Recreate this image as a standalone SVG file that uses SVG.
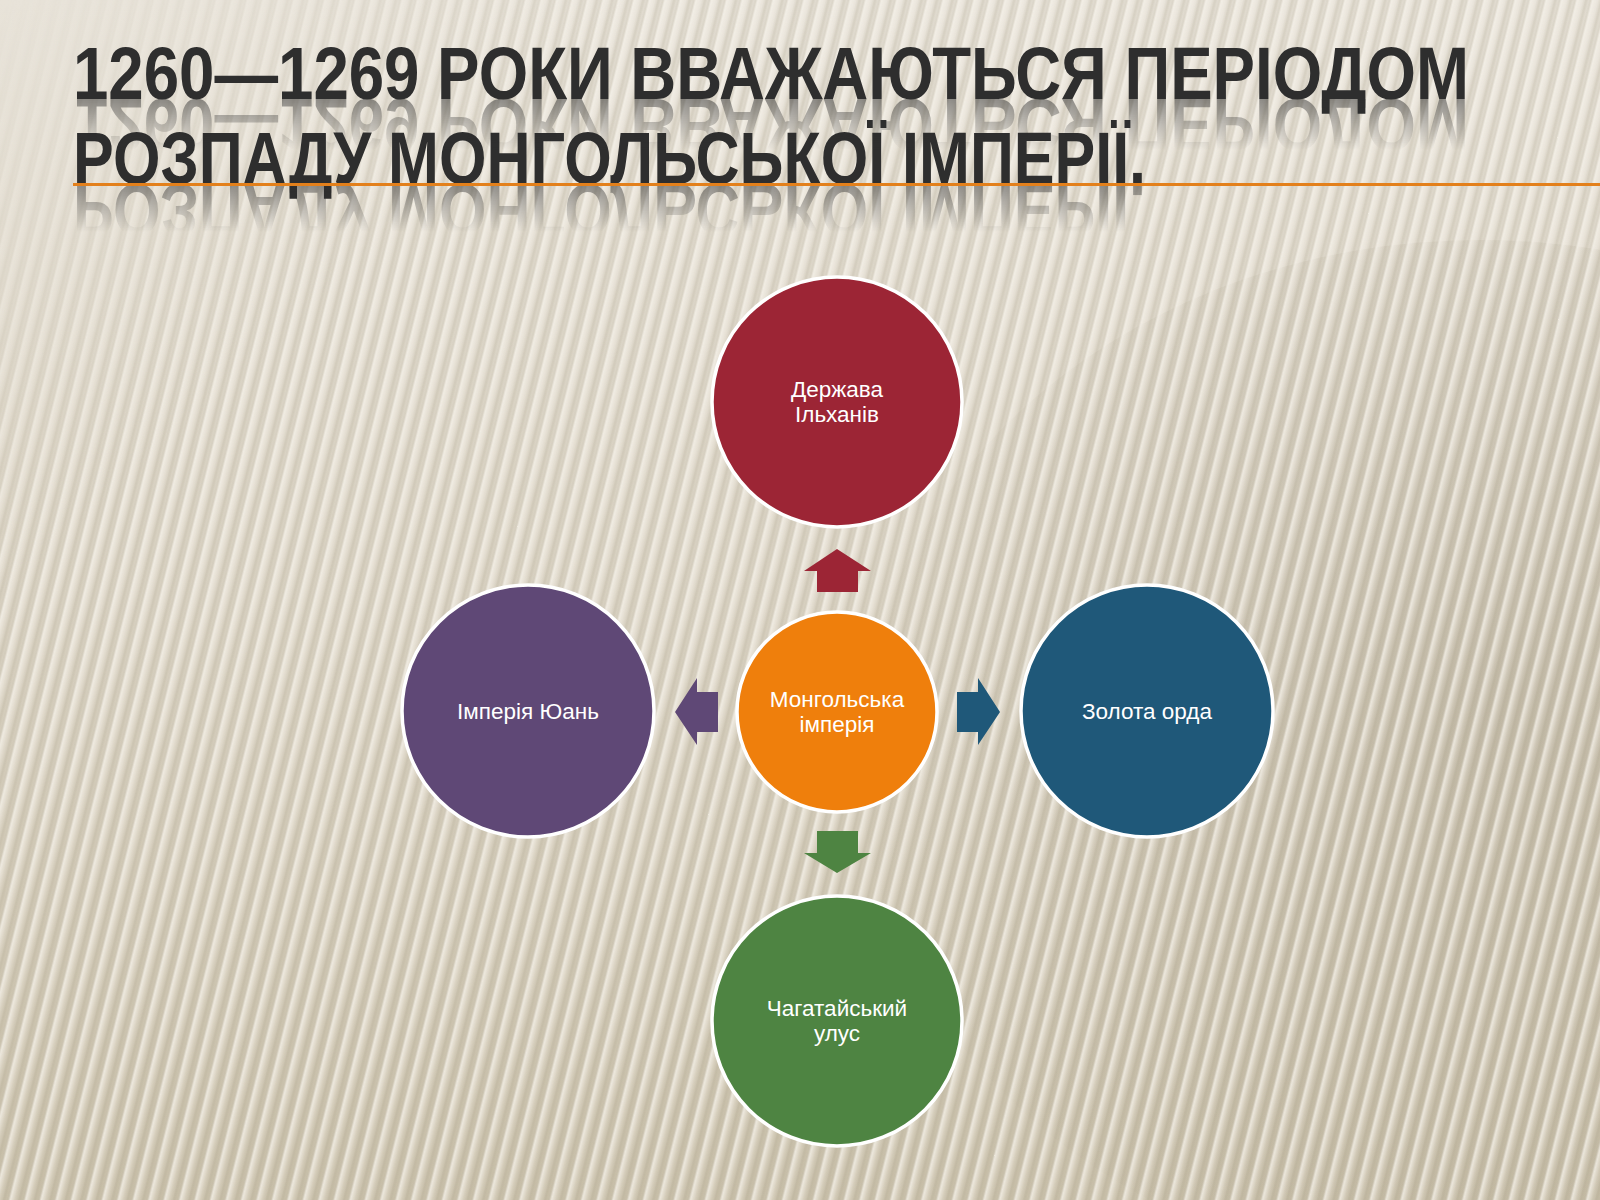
<svg xmlns="http://www.w3.org/2000/svg" xmlns:xlink="http://www.w3.org/1999/xlink" width="1600" height="1200" viewBox="0 0 1600 1200">
<defs>
<style>
.node circle{stroke:#ffffff;stroke-width:3.5}
.lbl{font-family:"Liberation Sans",Arial,sans-serif;font-size:22.5px;fill:#ffffff;text-anchor:middle}
.title{font-family:"Liberation Sans Narrow","Liberation Sans",Arial,sans-serif;font-weight:bold;font-size:74px;fill:#2e2e2e}
</style>
<linearGradient id="bg" x1="0" y1="0" x2="0" y2="1">
<stop offset="0" stop-color="#e8e3d9"/>
<stop offset="0.5" stop-color="#ddd6c7"/>
<stop offset="1" stop-color="#cbc2ac"/>
</linearGradient>
<linearGradient id="rib" x1="0" y1="0" x2="1" y2="0">
<stop offset="0" stop-color="#f4f0e8" stop-opacity="0.85"/>
<stop offset="0.35" stop-color="#f4f0e8" stop-opacity="0.2"/>
<stop offset="0.6" stop-color="#a9a08a" stop-opacity="0.3"/>
<stop offset="0.8" stop-color="#a9a08a" stop-opacity="0.08"/>
<stop offset="1" stop-color="#f4f0e8" stop-opacity="0.85"/>
</linearGradient>
<pattern id="stripes" width="15" height="40" patternUnits="userSpaceOnUse" patternTransform="rotate(14)">
<rect width="15" height="40" fill="url(#rib)"/>
</pattern>
<linearGradient id="fadeTop" gradientUnits="userSpaceOnUse" x1="0" y1="0" x2="300" y2="320">
<stop offset="0" stop-color="#fff" stop-opacity="0"/>
<stop offset="1" stop-color="#fff" stop-opacity="1"/>
</linearGradient>
<mask id="stripeMask">
<rect width="1600" height="1200" fill="url(#fadeTop)"/>
<rect x="1300" y="0" width="300" height="320" fill="#fff" opacity="0.8"/>
</mask>
<radialGradient id="swoosh" cx="1500" cy="700" r="700" gradientUnits="userSpaceOnUse">
<stop offset="0" stop-color="#8f846b" stop-opacity="0.3"/>
<stop offset="0.6" stop-color="#8f846b" stop-opacity="0.12"/>
<stop offset="1" stop-color="#8f846b" stop-opacity="0"/>
</radialGradient>
<linearGradient id="r1" gradientUnits="userSpaceOnUse" x1="0" y1="99" x2="0" y2="150">
<stop offset="0" stop-color="#fff" stop-opacity="0.5"/>
<stop offset="1" stop-color="#fff" stop-opacity="0"/>
</linearGradient>
<linearGradient id="r2" gradientUnits="userSpaceOnUse" x1="0" y1="184" x2="0" y2="232">
<stop offset="0" stop-color="#fff" stop-opacity="0.5"/>
<stop offset="1" stop-color="#fff" stop-opacity="0"/>
</linearGradient>
<mask id="m1"><rect x="0" y="99" width="1600" height="60" fill="url(#r1)"/></mask>
<mask id="m2"><rect x="0" y="184" width="1600" height="60" fill="url(#r2)"/></mask>
</defs>

<g id="background">
<rect width="1600" height="1200" fill="url(#bg)"/>
<ellipse cx="1480" cy="760" rx="620" ry="520" fill="url(#swoosh)"/>
<rect width="1600" height="1200" fill="url(#stripes)" mask="url(#stripeMask)"/>
</g>

<g id="title">
<text id="t1" class="title" x="73" y="99" textLength="1396" lengthAdjust="spacingAndGlyphs">1260—1269 РОКИ ВВАЖАЮТЬСЯ ПЕРІОДОМ</text>
<text id="t2" class="title" x="73" y="184" textLength="1073" lengthAdjust="spacingAndGlyphs">РОЗПАДУ МОНГОЛЬСЬКОЇ ІМПЕРІЇ.</text>
<g mask="url(#m1)" aria-hidden="true"><use xlink:href="#t1" transform="translate(0,198) scale(1,-1)"/></g>
<g mask="url(#m2)" aria-hidden="true"><use xlink:href="#t2" transform="translate(0,368) scale(1,-1)"/></g>
<rect x="73" y="183" width="1527" height="3" fill="#e3801b"/>
</g>

<g id="connectors">
<polygon id="arrow-up" fill="#9c2535" points="837,549 871,571 858,571 858,592 817,592 817,571 804,571"/>
<polygon id="arrow-left" fill="#5f4876" points="675,712 697,678 697,692 718,692 718,732 697,732 697,745"/>
<polygon id="arrow-right" fill="#1f5879" points="1000,712 978,678 978,692 957,692 957,732 978,732 978,745"/>
<polygon id="arrow-down" fill="#4e8442" points="837,873 871,853 858,853 858,831 817,831 817,853 804,853"/>
</g>

<g id="node-top" class="node">
<circle cx="837" cy="402" r="125" fill="#9c2535"/>
<text class="lbl" x="837" y="397">Держава</text>
<text class="lbl" x="837" y="422">Ільханів</text>
</g>
<g id="node-center" class="node">
<circle cx="837" cy="712" r="100" fill="#ef7f0c"/>
<text class="lbl" x="837" y="707">Монгольська</text>
<text class="lbl" x="837" y="732">імперія</text>
</g>
<g id="node-left" class="node">
<circle cx="528" cy="711" r="126" fill="#5f4876"/>
<text class="lbl" x="528" y="719">Імперія Юань</text>
</g>
<g id="node-right" class="node">
<circle cx="1147" cy="711" r="126" fill="#1f5879"/>
<text class="lbl" x="1147" y="719">Золота орда</text>
</g>
<g id="node-bottom" class="node">
<circle cx="837" cy="1021" r="125" fill="#4e8442"/>
<text class="lbl" x="837" y="1016">Чагатайський</text>
<text class="lbl" x="837" y="1041">улус</text>
</g>
</svg>
